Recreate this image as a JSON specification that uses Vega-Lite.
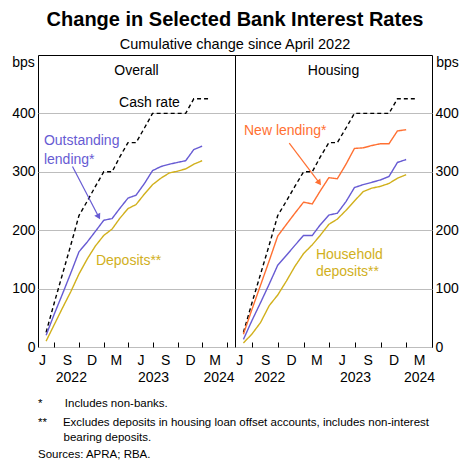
{
  "$schema": "https://vega.github.io/schema/vega-lite/v6.json",
  "padding": {"left": 11, "top": 10, "right": 0, "bottom": 0},
  "config": {
    "font": "Liberation Sans",
    "view": {"stroke": "black", "strokeWidth": 1},
    "axis": {"labelFont": "Liberation Sans", "labelFontSize": 14, "labelColor": "black", "titleFont": "Liberation Sans", "titleFontSize": 14, "titleFontWeight": "normal", "titleColor": "black"},
    "title": {"font": "Liberation Sans", "color": "black", "subtitleColor": "black", "subtitleFont": "Liberation Sans"},
    "text": {"font": "Liberation Sans"}
  },
  "title": {
    "text": "Change in Selected Bank Interest Rates",
    "subtitle": "Cumulative change since April 2022",
    "fontSize": 20,
    "fontWeight": "bold",
    "subtitleFontSize": 14.5,
    "subtitlePadding": 8,
    "anchor": "middle",
    "offset": 3
  },
  "datasets": {
    "overall": [
      {"date": "2022-05-31", "series": "Cash rate", "value": 25},
      {"date": "2022-06-30", "series": "Cash rate", "value": 75},
      {"date": "2022-07-31", "series": "Cash rate", "value": 125},
      {"date": "2022-08-31", "series": "Cash rate", "value": 175},
      {"date": "2022-09-30", "series": "Cash rate", "value": 225},
      {"date": "2022-10-31", "series": "Cash rate", "value": 250},
      {"date": "2022-11-30", "series": "Cash rate", "value": 275},
      {"date": "2022-12-31", "series": "Cash rate", "value": 300},
      {"date": "2023-01-31", "series": "Cash rate", "value": 300},
      {"date": "2023-02-28", "series": "Cash rate", "value": 325},
      {"date": "2023-03-31", "series": "Cash rate", "value": 350},
      {"date": "2023-04-30", "series": "Cash rate", "value": 350},
      {"date": "2023-05-31", "series": "Cash rate", "value": 375},
      {"date": "2023-06-30", "series": "Cash rate", "value": 400},
      {"date": "2023-07-31", "series": "Cash rate", "value": 400},
      {"date": "2023-08-31", "series": "Cash rate", "value": 400},
      {"date": "2023-09-30", "series": "Cash rate", "value": 400},
      {"date": "2023-10-31", "series": "Cash rate", "value": 400},
      {"date": "2023-11-30", "series": "Cash rate", "value": 425},
      {"date": "2023-12-31", "series": "Cash rate", "value": 425},
      {"date": "2024-01-31", "series": "Cash rate", "value": 425},
      {"date": "2022-05-31", "series": "Outstanding lending", "value": 20},
      {"date": "2022-06-30", "series": "Outstanding lending", "value": 56},
      {"date": "2022-07-31", "series": "Outstanding lending", "value": 91},
      {"date": "2022-08-31", "series": "Outstanding lending", "value": 127},
      {"date": "2022-09-30", "series": "Outstanding lending", "value": 163},
      {"date": "2022-10-31", "series": "Outstanding lending", "value": 180},
      {"date": "2022-11-30", "series": "Outstanding lending", "value": 198},
      {"date": "2022-12-31", "series": "Outstanding lending", "value": 217},
      {"date": "2023-01-31", "series": "Outstanding lending", "value": 220},
      {"date": "2023-02-28", "series": "Outstanding lending", "value": 237},
      {"date": "2023-03-31", "series": "Outstanding lending", "value": 255},
      {"date": "2023-04-30", "series": "Outstanding lending", "value": 260},
      {"date": "2023-05-31", "series": "Outstanding lending", "value": 280},
      {"date": "2023-06-30", "series": "Outstanding lending", "value": 302},
      {"date": "2023-07-31", "series": "Outstanding lending", "value": 309},
      {"date": "2023-08-31", "series": "Outstanding lending", "value": 313},
      {"date": "2023-09-30", "series": "Outstanding lending", "value": 316},
      {"date": "2023-10-31", "series": "Outstanding lending", "value": 319},
      {"date": "2023-11-30", "series": "Outstanding lending", "value": 338},
      {"date": "2023-12-31", "series": "Outstanding lending", "value": 344},
      {"date": "2022-05-31", "series": "Deposits", "value": 10},
      {"date": "2022-06-30", "series": "Deposits", "value": 38},
      {"date": "2022-07-31", "series": "Deposits", "value": 67},
      {"date": "2022-08-31", "series": "Deposits", "value": 95},
      {"date": "2022-09-30", "series": "Deposits", "value": 125},
      {"date": "2022-10-31", "series": "Deposits", "value": 151},
      {"date": "2022-11-30", "series": "Deposits", "value": 173},
      {"date": "2022-12-31", "series": "Deposits", "value": 191},
      {"date": "2023-01-31", "series": "Deposits", "value": 202},
      {"date": "2023-02-28", "series": "Deposits", "value": 220},
      {"date": "2023-03-31", "series": "Deposits", "value": 237},
      {"date": "2023-04-30", "series": "Deposits", "value": 244},
      {"date": "2023-05-31", "series": "Deposits", "value": 262},
      {"date": "2023-06-30", "series": "Deposits", "value": 278},
      {"date": "2023-07-31", "series": "Deposits", "value": 289},
      {"date": "2023-08-31", "series": "Deposits", "value": 298},
      {"date": "2023-09-30", "series": "Deposits", "value": 301},
      {"date": "2023-10-31", "series": "Deposits", "value": 305},
      {"date": "2023-11-30", "series": "Deposits", "value": 313},
      {"date": "2023-12-31", "series": "Deposits", "value": 319}
    ],
    "housing": [
      {"date": "2022-05-31", "series": "Cash rate", "value": 25},
      {"date": "2022-06-30", "series": "Cash rate", "value": 75},
      {"date": "2022-07-31", "series": "Cash rate", "value": 125},
      {"date": "2022-08-31", "series": "Cash rate", "value": 175},
      {"date": "2022-09-30", "series": "Cash rate", "value": 225},
      {"date": "2022-10-31", "series": "Cash rate", "value": 250},
      {"date": "2022-11-30", "series": "Cash rate", "value": 275},
      {"date": "2022-12-31", "series": "Cash rate", "value": 300},
      {"date": "2023-01-31", "series": "Cash rate", "value": 300},
      {"date": "2023-02-28", "series": "Cash rate", "value": 325},
      {"date": "2023-03-31", "series": "Cash rate", "value": 350},
      {"date": "2023-04-30", "series": "Cash rate", "value": 350},
      {"date": "2023-05-31", "series": "Cash rate", "value": 375},
      {"date": "2023-06-30", "series": "Cash rate", "value": 400},
      {"date": "2023-07-31", "series": "Cash rate", "value": 400},
      {"date": "2023-08-31", "series": "Cash rate", "value": 400},
      {"date": "2023-09-30", "series": "Cash rate", "value": 400},
      {"date": "2023-10-31", "series": "Cash rate", "value": 400},
      {"date": "2023-11-30", "series": "Cash rate", "value": 425},
      {"date": "2023-12-31", "series": "Cash rate", "value": 425},
      {"date": "2024-01-31", "series": "Cash rate", "value": 425},
      {"date": "2022-05-31", "series": "New lending", "value": 22},
      {"date": "2022-06-30", "series": "New lending", "value": 64},
      {"date": "2022-07-31", "series": "New lending", "value": 106},
      {"date": "2022-08-31", "series": "New lending", "value": 148},
      {"date": "2022-09-30", "series": "New lending", "value": 190},
      {"date": "2022-10-31", "series": "New lending", "value": 210},
      {"date": "2022-11-30", "series": "New lending", "value": 229},
      {"date": "2022-12-31", "series": "New lending", "value": 248},
      {"date": "2023-01-31", "series": "New lending", "value": 245},
      {"date": "2023-02-28", "series": "New lending", "value": 267},
      {"date": "2023-03-31", "series": "New lending", "value": 290},
      {"date": "2023-04-30", "series": "New lending", "value": 288},
      {"date": "2023-05-31", "series": "New lending", "value": 313},
      {"date": "2023-06-30", "series": "New lending", "value": 340},
      {"date": "2023-07-31", "series": "New lending", "value": 341},
      {"date": "2023-08-31", "series": "New lending", "value": 345},
      {"date": "2023-09-30", "series": "New lending", "value": 348},
      {"date": "2023-10-31", "series": "New lending", "value": 348},
      {"date": "2023-11-30", "series": "New lending", "value": 370},
      {"date": "2023-12-31", "series": "New lending", "value": 372},
      {"date": "2022-05-31", "series": "Outstanding lending", "value": 13},
      {"date": "2022-06-30", "series": "Outstanding lending", "value": 45},
      {"date": "2022-07-31", "series": "Outstanding lending", "value": 76},
      {"date": "2022-08-31", "series": "Outstanding lending", "value": 108},
      {"date": "2022-09-30", "series": "Outstanding lending", "value": 140},
      {"date": "2022-10-31", "series": "Outstanding lending", "value": 157},
      {"date": "2022-11-30", "series": "Outstanding lending", "value": 174},
      {"date": "2022-12-31", "series": "Outstanding lending", "value": 191},
      {"date": "2023-01-31", "series": "Outstanding lending", "value": 191},
      {"date": "2023-02-28", "series": "Outstanding lending", "value": 209},
      {"date": "2023-03-31", "series": "Outstanding lending", "value": 226},
      {"date": "2023-04-30", "series": "Outstanding lending", "value": 229},
      {"date": "2023-05-31", "series": "Outstanding lending", "value": 249},
      {"date": "2023-06-30", "series": "Outstanding lending", "value": 273},
      {"date": "2023-07-31", "series": "Outstanding lending", "value": 278},
      {"date": "2023-08-31", "series": "Outstanding lending", "value": 282},
      {"date": "2023-09-30", "series": "Outstanding lending", "value": 286},
      {"date": "2023-10-31", "series": "Outstanding lending", "value": 292},
      {"date": "2023-11-30", "series": "Outstanding lending", "value": 316},
      {"date": "2023-12-31", "series": "Outstanding lending", "value": 321},
      {"date": "2022-05-31", "series": "Household deposits", "value": 7},
      {"date": "2022-06-30", "series": "Household deposits", "value": 22},
      {"date": "2022-07-31", "series": "Household deposits", "value": 42},
      {"date": "2022-08-31", "series": "Household deposits", "value": 71},
      {"date": "2022-09-30", "series": "Household deposits", "value": 89},
      {"date": "2022-10-31", "series": "Household deposits", "value": 113},
      {"date": "2022-11-30", "series": "Household deposits", "value": 138},
      {"date": "2022-12-31", "series": "Household deposits", "value": 160},
      {"date": "2023-01-31", "series": "Household deposits", "value": 175},
      {"date": "2023-02-28", "series": "Household deposits", "value": 191},
      {"date": "2023-03-31", "series": "Household deposits", "value": 210},
      {"date": "2023-04-30", "series": "Household deposits", "value": 219},
      {"date": "2023-05-31", "series": "Household deposits", "value": 234},
      {"date": "2023-06-30", "series": "Household deposits", "value": 250},
      {"date": "2023-07-31", "series": "Household deposits", "value": 266},
      {"date": "2023-08-31", "series": "Household deposits", "value": 272},
      {"date": "2023-09-30", "series": "Household deposits", "value": 275},
      {"date": "2023-10-31", "series": "Household deposits", "value": 280},
      {"date": "2023-11-30", "series": "Household deposits", "value": 289},
      {"date": "2023-12-31", "series": "Household deposits", "value": 295}
    ],
    "overallLabels": [
      {"date": "2023-02-26", "value": 418, "series": "Cash rate", "label": "Cash rate"},
      {"date": "2022-05-23", "value": 352, "series": "Outstanding lending", "label": "Outstanding|lending*"},
      {"date": "2022-12-02", "value": 148, "series": "Deposits", "label": "Deposits**"}
    ],
    "housingLabels": [
      {"date": "2022-06-02", "value": 370, "series": "New lending", "label": "New lending*"},
      {"date": "2023-02-13", "value": 157, "series": "Household deposits", "label": "Household|deposits**"}
    ],
    "overallArrow": [
      {"date": "2022-09-06", "value": 309, "date2": "2022-12-12", "value2": 223, "series": "Outstanding lending"}
    ],
    "housingArrow": [
      {"date": "2022-11-10", "value": 349, "date2": "2023-02-25", "value2": 281, "series": "New lending"}
    ]
  },
  "vconcat": [
    {
      "title": {
        "text": [
          "*\u00a0\u00a0\u00a0\u00a0\u00a0\u00a0\u00a0Includes non-banks.",
          "**\u00a0\u00a0\u00a0\u00a0\u00a0Excludes deposits in housing loan offset accounts, includes non-interest"
        ],
        "subtitle": [
          "\u200b\u00a0\u00a0\u00a0\u00a0\u00a0\u00a0\u00a0\u00a0bearing deposits.",
          "Sources: APRA; RBA."
        ],
        "orient": "bottom",
        "anchor": "start",
        "frame": "group",
        "fontSize": 11.5,
        "fontWeight": "normal",
        "lineHeight": 19,
        "subtitleFontSize": 11.5,
        "subtitleLineHeight": 17.5,
        "subtitlePadding": 3,
        "offset": 13
      },
      "spacing": 0,
      "bounds": "flush",
      "hconcat": [
        {
          "width": 197,
          "height": 292,
          "title": {"text": "Overall", "offset": -23, "fontSize": 14, "fontWeight": "normal", "anchor": "middle"},
          "resolve": {"axis": {"x": "independent"}},
          "layer": [
            {
              "data": {"name": "overall"},
              "mark": {"type": "line", "strokeWidth": 1.4},
              "encoding": {
                "x": {
                  "field": "date", "type": "temporal",
                  "scale": {"type": "utc", "domain": [{"year": 2022, "month": 5, "date": 1, "utc": true}, {"year": 2024, "month": 5, "date": 1, "utc": true}]},
                  "axis": {
                    "orient": "bottom", "title": null, "grid": false, "domain": false,
                    "values": [
                      {"year": 2022, "month": 7, "date": 1, "utc": true},
                      {"year": 2022, "month": 10, "date": 1, "utc": true},
                      {"year": 2023, "month": 1, "date": 1, "utc": true},
                      {"year": 2023, "month": 4, "date": 1, "utc": true},
                      {"year": 2023, "month": 7, "date": 1, "utc": true},
                      {"year": 2023, "month": 10, "date": 1, "utc": true},
                      {"year": 2024, "month": 1, "date": 1, "utc": true},
                      {"year": 2024, "month": 4, "date": 1, "utc": true}
                    ],
                    "labelExpr": "utcmonth(datum.value) == 6 ? 'J' : utcmonth(datum.value) == 9 ? 'S' : utcmonth(datum.value) == 0 ? 'D' : 'M'",
                    "labelOffset": -12.4,
                    "labelFlush": false, "labelOverlap": false, "labelBound": false,
                    "ticks": true, "tickSize": -5, "tickColor": "black", "tickWidth": 1,
                    "labelPadding": 11
                  }
                },
                "y": {
                  "field": "value", "type": "quantitative",
                  "scale": {"domain": [0, 500], "nice": false},
                  "axis": {
                    "orient": "left", "values": [0, 100, 200, 300, 400], "grid": true, "gridColor": "#bdbdbd", "gridWidth": 1,
                    "ticks": false, "domain": false, "labelPadding": 3,
                    "title": "bps", "titleAngle": 0, "titleX": -15, "titleY": 7, "titleAlign": "center", "titleBaseline": "middle"
                  }
                },
                "color": {
                  "field": "series", "type": "nominal", "legend": null,
                  "scale": {"domain": ["Cash rate", "Outstanding lending", "Deposits", "New lending", "Household deposits"], "range": ["#000000", "#675bd3", "#d1b01c", "#ff7032", "#d1b01c"]}
                },
                "strokeDash": {
                  "field": "series", "type": "nominal", "legend": null,
                  "scale": {"domain": ["Cash rate", "Outstanding lending", "Deposits", "New lending", "Household deposits"], "range": [[4, 3], [1, 0], [1, 0], [1, 0], [1, 0]]}
                }
              }
            },
            {
              "data": {"name": "overallLabels"},
              "mark": {"type": "text", "align": "left", "baseline": "middle", "fontSize": 14, "lineBreak": "|", "lineHeight": 18.3},
              "encoding": {
                "x": {
                  "field": "date", "type": "temporal",
                  "scale": {"type": "utc", "domain": [{"year": 2022, "month": 5, "date": 1, "utc": true}, {"year": 2024, "month": 5, "date": 1, "utc": true}]},
                  "axis": {
                    "orient": "bottom", "title": null, "grid": false, "domain": false, "ticks": false,
                    "values": [
                      {"year": 2022, "month": 8, "date": 31, "utc": true},
                      {"year": 2023, "month": 7, "date": 2, "utc": true},
                      {"year": 2024, "month": 3, "date": 1, "utc": true}
                    ],
                    "format": "%Y", "labelFlush": false, "labelOverlap": false, "labelBound": false,
                    "labelPadding": 23.5
                  }
                },
                "y": {"field": "value", "type": "quantitative", "scale": {"domain": [0, 500], "nice": false}},
                "text": {"field": "label", "type": "nominal"},
                "color": {
                  "field": "series", "type": "nominal", "legend": null,
                  "scale": {"domain": ["Cash rate", "Outstanding lending", "Deposits", "New lending", "Household deposits"], "range": ["#000000", "#675bd3", "#d1b01c", "#ff7032", "#d1b01c"]}
                }
              }
            },
            {
              "data": {"name": "overallArrow"},
              "mark": {"type": "rule", "strokeWidth": 1.2},
              "encoding": {
                "x": {"field": "date", "type": "temporal", "axis": null, "scale": {"type": "utc", "domain": [{"year": 2022, "month": 5, "date": 1, "utc": true}, {"year": 2024, "month": 5, "date": 1, "utc": true}]}},
                "y": {"field": "value", "type": "quantitative", "scale": {"domain": [0, 500], "nice": false}},
                "x2": {"field": "date2"},
                "y2": {"field": "value2"},
                "color": {
                  "field": "series", "type": "nominal", "legend": null,
                  "scale": {"domain": ["Cash rate", "Outstanding lending", "Deposits", "New lending", "Household deposits"], "range": ["#000000", "#675bd3", "#d1b01c", "#ff7032", "#d1b01c"]}
                }
              }
            },
            {
              "data": {"name": "overallArrow"},
              "mark": {"type": "point", "shape": "triangle-up", "filled": true, "size": 45, "angle": 152, "opacity": 1},
              "encoding": {
                "x": {"field": "date2", "type": "temporal", "axis": null, "scale": {"type": "utc", "domain": [{"year": 2022, "month": 5, "date": 1, "utc": true}, {"year": 2024, "month": 5, "date": 1, "utc": true}]}},
                "y": {"field": "value2", "type": "quantitative", "scale": {"domain": [0, 500], "nice": false}},
                "color": {
                  "field": "series", "type": "nominal", "legend": null,
                  "scale": {"domain": ["Cash rate", "Outstanding lending", "Deposits", "New lending", "Household deposits"], "range": ["#000000", "#675bd3", "#d1b01c", "#ff7032", "#d1b01c"]}
                }
              }
            }
          ]
        },
        {
          "width": 197,
          "height": 292,
          "title": {"text": "Housing", "offset": -23, "fontSize": 14, "fontWeight": "normal", "anchor": "middle"},
          "resolve": {"axis": {"x": "independent"}},
          "layer": [
            {
              "data": {"name": "housing"},
              "mark": {"type": "line", "strokeWidth": 1.4},
              "encoding": {
                "x": {
                  "field": "date", "type": "temporal",
                  "scale": {"type": "utc", "domain": [{"year": 2022, "month": 5, "date": 1, "utc": true}, {"year": 2024, "month": 4, "date": 1, "utc": true}]},
                  "axis": {
                    "orient": "bottom", "title": null, "grid": false, "domain": false,
                    "values": [
                      {"year": 2022, "month": 7, "date": 1, "utc": true},
                      {"year": 2022, "month": 10, "date": 1, "utc": true},
                      {"year": 2023, "month": 1, "date": 1, "utc": true},
                      {"year": 2023, "month": 4, "date": 1, "utc": true},
                      {"year": 2023, "month": 7, "date": 1, "utc": true},
                      {"year": 2023, "month": 10, "date": 1, "utc": true},
                      {"year": 2024, "month": 1, "date": 1, "utc": true},
                      {"year": 2024, "month": 4, "date": 1, "utc": true}
                    ],
                    "labelExpr": "utcmonth(datum.value) == 6 ? 'J' : utcmonth(datum.value) == 9 ? 'S' : utcmonth(datum.value) == 0 ? 'D' : 'M'",
                    "labelOffset": -12.9,
                    "labelFlush": false, "labelOverlap": false, "labelBound": false,
                    "ticks": true, "tickSize": -5, "tickColor": "black", "tickWidth": 1,
                    "labelPadding": 11
                  }
                },
                "y": {
                  "field": "value", "type": "quantitative",
                  "scale": {"domain": [0, 500], "nice": false},
                  "axis": {
                    "orient": "right", "values": [0, 100, 200, 300, 400], "grid": true, "gridColor": "#bdbdbd", "gridWidth": 1,
                    "ticks": false, "domain": false, "labelPadding": 3,
                    "title": "bps", "titleAngle": 0, "titleX": 15, "titleY": 7, "titleAlign": "center", "titleBaseline": "middle"
                  }
                },
                "color": {
                  "field": "series", "type": "nominal", "legend": null,
                  "scale": {"domain": ["Cash rate", "Outstanding lending", "Deposits", "New lending", "Household deposits"], "range": ["#000000", "#675bd3", "#d1b01c", "#ff7032", "#d1b01c"]}
                },
                "strokeDash": {
                  "field": "series", "type": "nominal", "legend": null,
                  "scale": {"domain": ["Cash rate", "Outstanding lending", "Deposits", "New lending", "Household deposits"], "range": [[4, 3], [1, 0], [1, 0], [1, 0], [1, 0]]}
                }
              }
            },
            {
              "data": {"name": "housingLabels"},
              "mark": {"type": "text", "align": "left", "baseline": "middle", "fontSize": 14, "lineBreak": "|", "lineHeight": 17},
              "encoding": {
                "x": {
                  "field": "date", "type": "temporal",
                  "scale": {"type": "utc", "domain": [{"year": 2022, "month": 5, "date": 1, "utc": true}, {"year": 2024, "month": 4, "date": 1, "utc": true}]},
                  "axis": {
                    "orient": "bottom", "title": null, "grid": false, "domain": false, "ticks": false,
                    "values": [
                      {"year": 2022, "month": 8, "date": 31, "utc": true},
                      {"year": 2023, "month": 7, "date": 2, "utc": true},
                      {"year": 2024, "month": 2, "date": 15, "utc": true}
                    ],
                    "format": "%Y", "labelFlush": false, "labelOverlap": false, "labelBound": false,
                    "labelPadding": 23.5
                  }
                },
                "y": {"field": "value", "type": "quantitative", "scale": {"domain": [0, 500], "nice": false}},
                "text": {"field": "label", "type": "nominal"},
                "color": {
                  "field": "series", "type": "nominal", "legend": null,
                  "scale": {"domain": ["Cash rate", "Outstanding lending", "Deposits", "New lending", "Household deposits"], "range": ["#000000", "#675bd3", "#d1b01c", "#ff7032", "#d1b01c"]}
                }
              }
            },
            {
              "data": {"name": "housingArrow"},
              "mark": {"type": "rule", "strokeWidth": 1.2},
              "encoding": {
                "x": {"field": "date", "type": "temporal", "axis": null, "scale": {"type": "utc", "domain": [{"year": 2022, "month": 5, "date": 1, "utc": true}, {"year": 2024, "month": 4, "date": 1, "utc": true}]}},
                "y": {"field": "value", "type": "quantitative", "scale": {"domain": [0, 500], "nice": false}},
                "x2": {"field": "date2"},
                "y2": {"field": "value2"},
                "color": {
                  "field": "series", "type": "nominal", "legend": null,
                  "scale": {"domain": ["Cash rate", "Outstanding lending", "Deposits", "New lending", "Household deposits"], "range": ["#000000", "#675bd3", "#d1b01c", "#ff7032", "#d1b01c"]}
                }
              }
            },
            {
              "data": {"name": "housingArrow"},
              "mark": {"type": "point", "shape": "triangle-up", "filled": true, "size": 45, "angle": 143, "opacity": 1},
              "encoding": {
                "x": {"field": "date2", "type": "temporal", "axis": null, "scale": {"type": "utc", "domain": [{"year": 2022, "month": 5, "date": 1, "utc": true}, {"year": 2024, "month": 4, "date": 1, "utc": true}]}},
                "y": {"field": "value2", "type": "quantitative", "scale": {"domain": [0, 500], "nice": false}},
                "color": {
                  "field": "series", "type": "nominal", "legend": null,
                  "scale": {"domain": ["Cash rate", "Outstanding lending", "Deposits", "New lending", "Household deposits"], "range": ["#000000", "#675bd3", "#d1b01c", "#ff7032", "#d1b01c"]}
                }
              }
            }
          ]
        }
      ]
    }
  ]
}
